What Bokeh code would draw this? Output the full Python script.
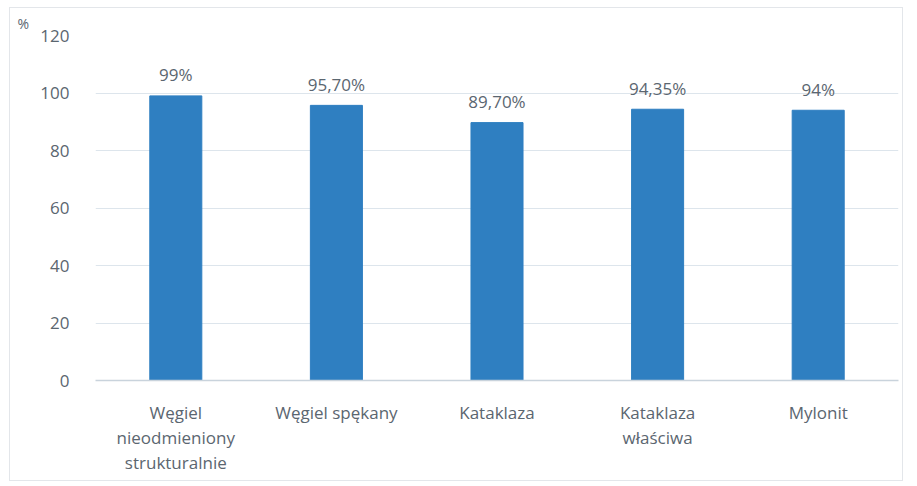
from bokeh.plotting import figure
from bokeh.models import ColumnDataSource, FixedTicker
from bokeh.core.properties import value
from bokeh.embed import file_html
from bokeh.resources import INLINE

categories = ["Węgiel\nnieodmieniony\nstrukturalnie", "Węgiel spękany", "Kataklaza",
              "Kataklaza\nwłaściwa", "Mylonit"]
values = [99, 95.7, 89.7, 94.35, 94]
labels = ["99%", "95,70%", "89,70%", "94,35%", "94%"]
y_ticks = [0, 20, 40, 60, 80, 100, 120]

FONT = "Open Sans"
TXT = "#5b6670"

src = ColumnDataSource(dict(cat=categories, val=values, lab=labels))

p = figure(x_range=categories, y_range=(0, 120), width=894, height=474,
           output_backend="svg", toolbar_location=None, title="%",
           min_border_left=85, min_border_right=6, min_border_top=27, min_border_bottom=102)
p.styles = {"border": "1px solid #e3e6ea", "margin-left": "9px", "margin-top": "7px"}
p.outline_line_color = None
p.background_fill_color = "white"
p.border_fill_color = "white"

p.title.align = "left"
p.title.offset = -78
p.title.text_font = FONT
p.title.text_font_size = "14px"
p.title.text_font_style = "normal"
p.title.text_color = TXT
p.title.standoff = 6

p.vbar(x="cat", top="val", width=0.324, source=src, color="#2f7fc1")
p.text(x="cat", y="val", text="lab", source=src, text_align="center", text_baseline="middle",
       y_offset=-21, text_font=value(FONT), text_font_size="17px", text_color=TXT)

p.yaxis.ticker = FixedTicker(ticks=y_ticks)
p.yaxis.axis_line_color = None
p.yaxis.major_tick_line_color = None
p.yaxis.minor_tick_line_color = None
p.yaxis.major_label_standoff = 20
p.yaxis.major_label_text_font = FONT
p.yaxis.major_label_text_font_size = "17px"
p.yaxis.major_label_text_color = TXT

p.xaxis.axis_line_color = "#c9d3dc"
p.xaxis.axis_line_width = 1.5
p.xaxis.major_tick_line_color = None
p.xaxis.minor_tick_line_color = None
p.xaxis.major_label_standoff = 14
p.xaxis.major_label_text_font = FONT
p.xaxis.major_label_text_font_size = "17px"
p.xaxis.major_label_text_color = TXT
p.xaxis.major_label_text_line_height = 1.1

p.xgrid.grid_line_color = None
p.ygrid.grid_line_color = "#dde5ec"
p.ygrid.grid_line_width = 1

open("out.html", "w").write(file_html(p, INLINE))
